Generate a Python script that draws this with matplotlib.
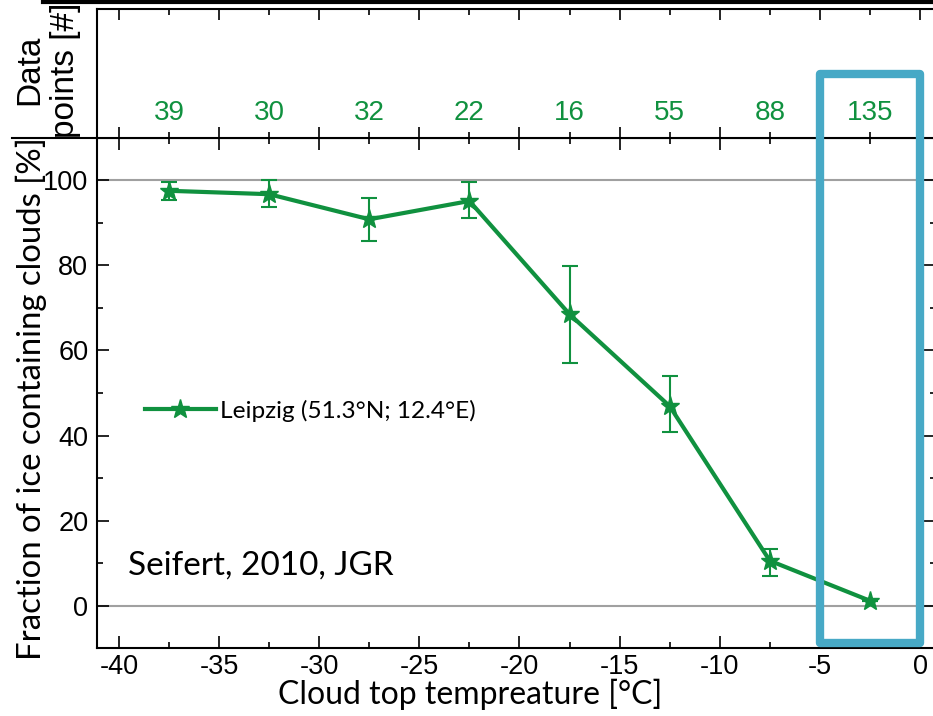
import matplotlib
matplotlib.use("Agg")
import matplotlib.pyplot as plt
from matplotlib.lines import Line2D
from matplotlib.patches import Rectangle
from matplotlib.ticker import MultipleLocator

plt.rcParams['axes.unicode_minus'] = False

# ---- data ----
temperature = [-37.5, -32.5, -27.5, -22.5, -17.5, -12.5, -7.5, -2.5]
ice_fraction = [97.5, 96.7, 90.8, 95.1, 68.5, 46.9, 10.6, 1.2]
err_upper = [2.0, 3.3, 4.9, 4.5, 11.3, 7.1, 2.8, 0.0]
err_lower = [2.1, 3.1, 5.1, 4.1, 11.5, 6.1, 3.6, 0.0]
counts = ["39", "30", "32", "22", "16", "55", "88", "135"]
series_label = "Leipzig (51.3°N; 12.4°E)"
ref_text = "Seifert, 2010, JGR"
xlabel = "Cloud top tempreature [°C]"
ylabel = "Fraction of ice containing clouds [%]"
top_ylabel = "Data\npoints [#]"
xticks = [-40, -35, -30, -25, -20, -15, -10, -5, 0]
yticks = [0, 20, 40, 60, 80, 100]
highlight_range = (-5.0, 0.0)

GREEN = "#10913f"
CYAN = "#47a9c6"
ARIAL = "Liberation Sans"
CAL = "Lato"

W, H = 933, 716
fig = plt.figure(figsize=(W / 100, H / 100), dpi=100)

def fx(px):
    return px / W

def fy(py):
    return 1 - py / H

left, right = 96.7, 936.0
main_top, main_bot = 138.0, 648.0
top_top = 9.0

ax = fig.add_axes([fx(left), fy(main_bot), fx(right) - fx(left), fy(main_top) - fy(main_bot)])
axt = fig.add_axes([fx(left), fy(main_top), fx(right) - fx(left), fy(top_top) - fy(main_top)])

xlim = (-41.11, (right - 920.0) / 20.03)
for a in (ax, axt):
    a.set_xlim(*xlim)
    for s in a.spines.values():
        s.set_linewidth(1.5)
    a.xaxis.set_major_locator(MultipleLocator(5))
    a.xaxis.set_minor_locator(MultipleLocator(2.5))

ax.set_ylim(-9.9, 109.9)
ax.set_yticks(yticks)
ax.yaxis.set_minor_locator(MultipleLocator(10))
ax.set_xticks(xticks)
ax.set_xticklabels([str(t) for t in xticks], fontfamily=ARIAL, fontsize=19.5)
ax.set_yticklabels([str(t) for t in yticks], fontfamily=ARIAL, fontsize=19.5)
ax.tick_params(which='both', direction='in', top=True, right=True, width=1.2)
ax.tick_params(which='major', length=8.5, pad=4)
ax.tick_params(which='minor', length=4.5)
ax.tick_params(axis='y', which='major', pad=6)

axt.set_ylim(0, 1)
axt.set_yticks([])
axt.tick_params(which='both', direction='in', top=True, bottom=True,
                labelbottom=False, width=1.2)
axt.tick_params(which='major', length=8)
axt.tick_params(which='minor', length=4.5)

# reference lines at 0 and 100
for yv in (0, 100):
    ax.axhline(yv, color="#a0a0a0", lw=1.5, zorder=1)

# error bars
ax.errorbar(temperature, ice_fraction, yerr=[err_lower, err_upper], fmt='none',
            ecolor=GREEN, elinewidth=1.5, capsize=6, capthick=1.5, zorder=2)
ax.plot(temperature, ice_fraction, color=GREEN, lw=3, marker='*', markersize=14,
        label=series_label, zorder=3)

# counts in top panel
for t, c in zip(temperature, counts):
    axt.text(t, 0.19, c, color=GREEN, fontsize=20, fontfamily=ARIAL,
             ha='center', va='center')

# legend
leg = ax.legend(loc='center left', bbox_to_anchor=(fx(145), fy(411)),
                bbox_transform=fig.transFigure, frameon=False, borderpad=0,
                borderaxespad=0, handlelength=2.9, handletextpad=0.15,
                prop={'family': CAL, 'size': 17.6})

# reference annotation
fig.text(fx(128), fy(566), ref_text, fontfamily=CAL, fontsize=24,
         ha='left', va='center')

# axis labels
fig.text(fx(470), fy(704), xlabel, fontfamily=CAL, fontsize=23,
         ha='center', va='baseline')
fig.text(fx(31), fy(399), ylabel, fontfamily=CAL, fontsize=23.7,
         ha='center', va='center', rotation=90)
fig.text(fx(48), fy(70), top_ylabel, fontfamily=ARIAL, fontsize=24,
         ha='center', va='center', rotation=90, multialignment='center',
         linespacing=1.2)

# decorative frame lines
fig.add_artist(Line2D([fx(43), 1.0], [fy(2), fy(2)], color='black', lw=3))
fig.add_artist(Line2D([fx(12), fx(left)], [fy(main_top), fy(main_top)],
                      color='black', lw=1.5))

# highlight box spanning both panels
x0 = ax.transData.transform((highlight_range[0], 0))[0]
x1 = ax.transData.transform((highlight_range[1], 0))[0]
rect = Rectangle((x0 / W, fy(643)), (x1 - x0) / W, fy(73.5) - fy(643),
                 transform=fig.transFigure, fill=False, edgecolor=CYAN,
                 lw=6, joinstyle='round', zorder=10)
fig.add_artist(rect)

fig.savefig("out.png", dpi=100)
